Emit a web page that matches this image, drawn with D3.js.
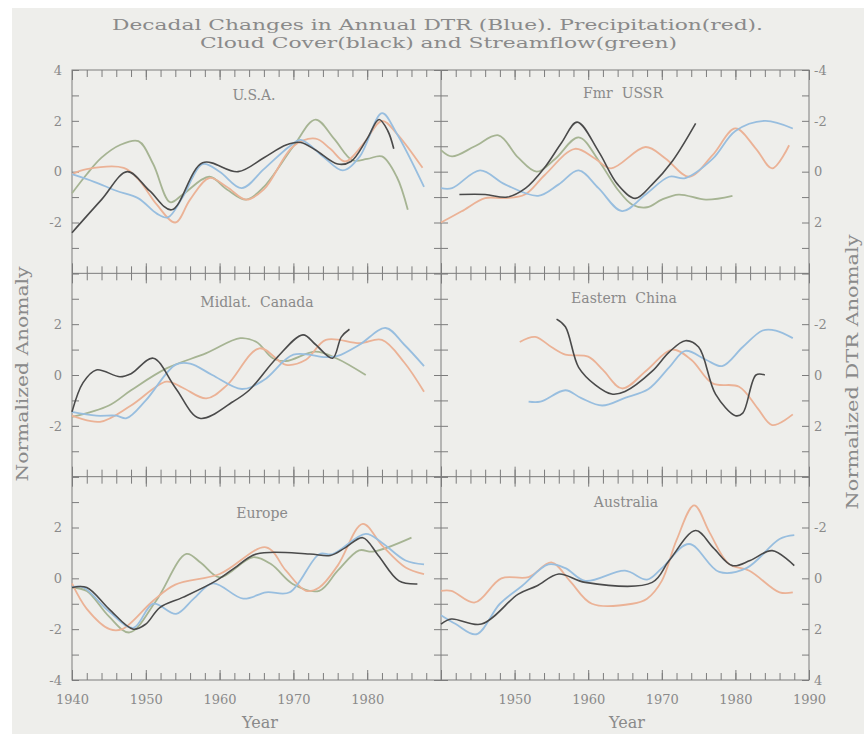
<!DOCTYPE html>
<html>
<head>
<meta charset="utf-8">
<script src="https://cdn.jsdelivr.net/npm/d3@7"></script>
<style>
  body { margin: 0; background: #fff; }
  svg { display: block; }
</style>
</head>
<body>
<div id="vis"></div>
<script>
const WIDTH = 864;
const HEIGHT = 734;
const PLOT = {left: 72, mid: 441, right: 809, top: 70, bottom: 680};
const ROW_H = (PLOT.bottom - PLOT.top) / 3;
const FONT = "'DejaVu Serif', serif";
const TEXT_COLOR = "#8a8a8a";
const AXIS_COLOR = "#7c7c7c";

// [year, value] pairs
// DTR (blue) values are in DTR units, plotted on the reversed right axis
const usaDTR = [[1940,0.1],[1943,0.4],[1946,0.75],[1949,1.05],[1951.5,1.65],[1953,1.8],[1955,1.0],[1957.7,-0.3],[1960,0],[1963,0.65],[1966,-0.1],[1969.5,-1.0],[1971,-1.25],[1974,-0.6],[1976.7,-0.05],[1979,-0.6],[1982,-2.3],[1984,-1.5],[1987.7,0.6]];
const usaPrecip = [[1940,-0.1],[1942,0.1],[1947,0.15],[1949,-0.3],[1951.5,-1.3],[1954,-2.0],[1956,-1.1],[1958.6,-0.25],[1961,-0.6],[1963.6,-1.1],[1966,-0.7],[1970,1.0],[1973,1.3],[1975,0.9],[1977,0.4],[1979.5,1.1],[1982,2.0],[1984,1.5],[1987.5,0.15]];
const usaCloud = [[1940,-2.4],[1944,-1.1],[1947.5,0],[1950.5,-0.75],[1953.5,-1.5],[1957.7,0.35],[1962.5,0],[1966,0.55],[1969,1.05],[1971,1.15],[1973,0.85],[1976,0.3],[1977.8,0.4],[1980,1.3],[1981.6,2.05],[1982.8,1.6],[1983.6,0.9]];
const usaFlow = [[1940,-0.85],[1942,-0.1],[1944,0.55],[1946.5,1.05],[1949,1.2],[1951,0.3],[1953.3,-1.2],[1955,-0.9],[1958.6,-0.2],[1961,-0.7],[1963.6,-1.1],[1966,-0.6],[1970,1.0],[1973,2.05],[1975.5,1.3],[1978,0.45],[1980,0.5],[1982,0.6],[1984,-0.2],[1985.5,-1.5]];

const ussrDTR = [[1940,0.65],[1941.5,0.65],[1945.3,-0.05],[1948.7,0.5],[1953.2,0.95],[1956,0.5],[1958.7,-0.05],[1961.4,0.65],[1964.6,1.55],[1967.8,0.9],[1971,0.2],[1973.2,0.25],[1976.9,-0.5],[1980,-1.6],[1984,-2.0],[1987.8,-1.7]];
const ussrPrecip = [[1940,-2.0],[1942.8,-1.56],[1946,-1.04],[1948.7,-1.04],[1951.4,-0.9],[1954.1,-0.13],[1958.2,0.9],[1960.9,0.52],[1963.1,0.13],[1967.8,0.97],[1970.5,0.52],[1973.7,-0.2],[1976.9,0.65],[1980,1.7],[1982.8,0.9],[1985,0.13],[1987.3,1.04]];
const ussrCloud = [[1942.5,-0.9],[1946,-0.9],[1949,-1.0],[1951.5,-0.65],[1954,0.13],[1956.4,1.15],[1958.5,1.95],[1961.4,0.8],[1964,-0.5],[1966.4,-1.05],[1968.7,-0.5],[1971.4,0.4],[1974.6,1.9]];
const ussrFlow = [[1940,0.85],[1941.5,0.6],[1944.6,1.0],[1947.8,1.43],[1950.5,0.55],[1953,0.0],[1955.5,0.5],[1958.7,1.35],[1961.5,0.4],[1964,-0.7],[1966,-1.3],[1968,-1.4],[1970,-1.1],[1972.3,-0.9],[1976,-1.1],[1979.6,-0.95]];

const canadaDTR = [[1940,1.45],[1943.3,1.6],[1946,1.6],[1947.4,1.7],[1950,1.0],[1954,-0.4],[1956,-0.45],[1959,0],[1963,0.55],[1966,0.2],[1970,-0.8],[1974.4,-0.7],[1976,-0.75],[1979,-1.2],[1982.5,-1.85],[1985,-1.2],[1987.7,-0.35]];
const canadaPrecip = [[1940,-1.6],[1943.8,-1.84],[1948,-1.2],[1952.8,-0.26],[1955,-0.5],[1958.2,-0.92],[1961,-0.4],[1965.4,1.05],[1969,0.4],[1971.7,0.6],[1974.4,1.38],[1979,1.25],[1982,1.38],[1985,0.5],[1987.7,-0.66]];
const canadaCloud = [[1940,-1.45],[1941.5,-0.3],[1943.3,0.2],[1946.5,-0.07],[1948,0.05],[1951,0.66],[1954,-0.5],[1957.3,-1.7],[1961.8,-1.05],[1964,-0.6],[1967.7,0.66],[1971.3,1.58],[1973,1.2],[1975.3,0.66],[1976.5,1.5],[1977.6,1.8]];
const canadaFlow = [[1940,-1.65],[1945,-1.2],[1948,-0.6],[1952.8,0.26],[1958.2,0.86],[1962.8,1.45],[1965,1.3],[1967.2,0.66],[1969,0.55],[1973,0.92],[1975.8,0.66],[1979.8,0.0]];

const chinaDTR = [[1951.9,1.05],[1953.5,1.05],[1956.9,0.6],[1959,0.9],[1961.9,1.2],[1965,0.9],[1968.2,0.55],[1971,-0.3],[1973.2,-0.95],[1976,-0.6],[1978.2,-0.35],[1981,-1.1],[1983.7,-1.75],[1985.5,-1.75],[1987.8,-1.45]];
const chinaPrecip = [[1950.7,1.3],[1952.8,1.5],[1955,1.1],[1956.9,0.8],[1960,0.72],[1962,0.2],[1964.6,-0.53],[1968,0.2],[1971.4,1.0],[1974,0.6],[1976.9,-0.33],[1980.5,-0.46],[1983,-1.3],[1985,-1.97],[1987.8,-1.55]];
const chinaCloud = [[1955.7,2.2],[1956.9,1.9],[1958.7,0.3],[1961,-0.4],[1963.2,-0.75],[1965,-0.65],[1968.7,0.15],[1971,0.9],[1973.2,1.35],[1975,1.1],[1977.3,-0.75],[1980,-1.6],[1981,-1.5],[1982.8,0.0],[1984,0.0]];
const chinaFlow = [];

const europeDTR = [[1940,0.35],[1941.5,0.35],[1945,1.3],[1948.3,1.95],[1951,1.0],[1954.1,1.4],[1956.5,0.8],[1959.1,0.2],[1963.2,0.8],[1966.3,0.55],[1969.5,0.55],[1973.5,-0.95],[1975.3,-0.95],[1979.8,-1.75],[1982,-1.4],[1985.2,-0.7],[1987.7,-0.55]];
const europePrecip = [[1940,-0.2],[1942,-1.2],[1945.1,-2.0],[1946.8,-2.0],[1951,-0.88],[1954,-0.25],[1960,0.17],[1966.3,1.22],[1969,0.3],[1971.7,-0.49],[1973.5,-0.36],[1976,0.5],[1979.4,2.14],[1982,1.3],[1985.2,0.43],[1987.7,0.17]];
const europeCloud = [[1940,-0.36],[1942,-0.36],[1945,-1.2],[1948.3,-2.0],[1950,-1.8],[1951.9,-1.15],[1955,-0.75],[1959.5,-0.1],[1962,0.4],[1965,0.96],[1972.2,0.96],[1975,0.9],[1977,1.2],[1979.4,1.6],[1981.5,0.9],[1984.3,-0.1],[1986.8,-0.22]];
const europeFlow = [[1940,-0.36],[1942,-0.5],[1945,-1.5],[1947.8,-2.13],[1951.4,-0.88],[1955.5,0.96],[1957.5,0.6],[1960,0.04],[1964.5,0.83],[1967,0.55],[1969.9,-0.22],[1973.5,-0.49],[1976,0.3],[1978.9,1.1],[1980.8,1.05],[1986,1.6]];

const australiaDTR = [[1940,1.45],[1942,1.8],[1944.8,2.2],[1948,1.0],[1951,0.3],[1954.6,-0.55],[1956.9,-0.4],[1959.6,0.1],[1965,-0.3],[1968,0.05],[1970,-0.4],[1973.7,-1.35],[1977.8,-0.25],[1981.5,-0.4],[1986,-1.55],[1988,-1.7]];
const australiaPrecip = [[1940,-0.49],[1941.4,-0.49],[1944.6,-0.95],[1948.2,0.0],[1951.9,0.05],[1955,0.63],[1957.5,-0.1],[1960.5,-1.0],[1966,-1.0],[1968,-0.8],[1970,-0.1],[1972,1.5],[1974.4,2.87],[1976.5,1.8],[1979.1,0.57],[1981.9,0.3],[1986,-0.55],[1987.8,-0.55]];
const australiaCloud = [[1940,-1.8],[1941.4,-1.6],[1945.5,-1.8],[1950.5,-0.62],[1953,-0.3],[1956,0.17],[1959.6,-0.16],[1968.7,-0.16],[1971,0.7],[1974.6,1.88],[1977,1.2],[1979.6,0.5],[1982,0.7],[1985,1.09],[1988,0.5]];
const australiaFlow = [];

const regions = ["U.S.A.", "Fmr  USSR", "Midlat.  Canada", "Eastern  China", "Europe", "Australia"];
const seriesByRegion = [
  [usaDTR, usaPrecip, usaCloud, usaFlow],
  [ussrDTR, ussrPrecip, ussrCloud, ussrFlow],
  [canadaDTR, canadaPrecip, canadaCloud, canadaFlow],
  [chinaDTR, chinaPrecip, chinaCloud, chinaFlow],
  [europeDTR, europePrecip, europeCloud, europeFlow],
  [australiaDTR, australiaPrecip, australiaCloud, australiaFlow]
];

const xTickLabels = [[1940, 1950, 1960, 1970, 1980], [1950, 1960, 1970, 1980, 1990]];
const leftTickLabels = [[4, 2, 0, -2], [2, 0, -2], [2, 0, -2, -4]];
const rightTickLabels = [[-4, -2, 0, 2], [-2, 0, 2], [-2, 0, 2, 4]];

// panel title centre (x) and offset from row top (y)
const TITLE_POS = [[254, 30], [623, 28], [257, 34], [624, 30], [262, 41], [626, 30]];

const COLORS = {dtr: "#98bedf", precip: "#ebb296", cloud: "#4a4a4a", flow: "#a6b493"};

const svg = d3.select("#vis")
    .append("svg")
    .attr("width", WIDTH)
    .attr("height", HEIGHT);

svg.append("rect")
    .attr("x", 12).attr("y", 8)
    .attr("width", WIDTH - 12).attr("height", HEIGHT - 8)
    .attr("fill", "#eeeeeb");

const X_SCALES = [
  d3.scaleLinear().domain([1940, 1990]).range([PLOT.left, PLOT.mid]),
  d3.scaleLinear().domain([1940, 1990]).range([PLOT.mid, PLOT.right])
];
function yLeft(r) {
  return d3.scaleLinear().domain([-4, 4]).range([PLOT.top + (r + 1) * ROW_H, PLOT.top + r * ROW_H]);
}
function yRight(r) {
  return d3.scaleLinear().domain([-4, 4]).range([PLOT.top + r * ROW_H, PLOT.top + (r + 1) * ROW_H]);
}

function addAxis(axis, tx, ty, size) {
  const g = svg.append("g")
      .attr("transform", "translate(" + tx + "," + ty + ")")
      .call(axis);
  g.select(".domain").remove();
  g.attr("font-family", FONT).attr("font-size", size || 13);
  g.selectAll("line").attr("stroke", AXIS_COLOR);
  g.selectAll("text").attr("fill", TEXT_COLOR);
  return g;
}

const minorYears = d3.range(1940, 1991, 2);
const majorYears = d3.range(1940, 1991, 10);

// x ticks along every horizontal frame line
for (let c = 0; c < 2; c++) {
  const x = X_SCALES[c];
  for (let k = 0; k <= 3; k++) {
    const y = PLOT.top + k * ROW_H;
    if (k < 3) {
      addAxis(d3.axisBottom(x).tickValues(minorYears).tickSize(7).tickFormat(""), 0, y);
      addAxis(d3.axisBottom(x).tickValues(majorYears).tickSize(10).tickFormat(""), 0, y);
    }
    if (k > 0) {
      addAxis(d3.axisTop(x).tickValues(minorYears).tickSize(7).tickFormat(""), 0, y);
      addAxis(d3.axisTop(x).tickValues(majorYears).tickSize(10).tickFormat(""), 0, y);
    }
  }
  addAxis(d3.axisBottom(x).tickValues(xTickLabels[c]).tickSize(0).tickPadding(15)
      .tickFormat(d => String(d)), 0, PLOT.bottom, 13);
}

// y ticks along the three vertical frame lines
const yTicks = d3.range(-4, 5, 1);
for (let r = 0; r < 3; r++) {
  addAxis(d3.axisRight(yLeft(r)).tickValues(yTicks).tickSize(7).tickFormat(""), PLOT.left, 0);
  addAxis(d3.axisLeft(yLeft(r)).tickValues(yTicks).tickSize(7).tickFormat(""), PLOT.mid, 0);
  addAxis(d3.axisRight(yLeft(r)).tickValues(yTicks).tickSize(7).tickFormat(""), PLOT.mid, 0);
  addAxis(d3.axisLeft(yRight(r)).tickValues(yTicks).tickSize(7).tickFormat(""), PLOT.right, 0);
  addAxis(d3.axisLeft(yLeft(r)).tickValues(leftTickLabels[r]).tickSize(0).tickPadding(10)
      .tickFormat(d => String(d)), PLOT.left, 0, 13);
  addAxis(d3.axisRight(yRight(r)).tickValues(rightTickLabels[r]).tickSize(0).tickPadding(5)
      .tickFormat(d => String(d)), PLOT.right, 0, 13);
}

// frame
const frame = svg.append("g").attr("stroke", AXIS_COLOR).attr("stroke-width", 1).attr("fill", "none");
frame.append("rect")
    .attr("x", PLOT.left).attr("y", PLOT.top)
    .attr("width", PLOT.right - PLOT.left).attr("height", PLOT.bottom - PLOT.top);
frame.append("line").attr("x1", PLOT.mid).attr("x2", PLOT.mid).attr("y1", PLOT.top).attr("y2", PLOT.bottom);
[1, 2].forEach(k => {
  frame.append("line")
      .attr("x1", PLOT.left).attr("x2", PLOT.right)
      .attr("y1", PLOT.top + k * ROW_H).attr("y2", PLOT.top + k * ROW_H);
});

// series
const order = [["flow", 3], ["precip", 1], ["dtr", 0], ["cloud", 2]];
regions.forEach((name, i) => {
  const r = Math.floor(i / 2), c = i % 2;
  const x = X_SCALES[c];
  const yl = yLeft(r), yr = yRight(r);

  order.forEach(([key, idx]) => {
    const data = seriesByRegion[i][idx];
    if (!data.length) return;
    const y = key === "dtr" ? yr : yl;
    const line = d3.line()
        .x(d => x(d[0]))
        .y(d => y(d[1]))
        .curve(d3.curveCatmullRom.alpha(0.5));
    svg.append("path")
        .datum(data)
        .attr("d", line)
        .attr("fill", "none")
        .attr("stroke", COLORS[key])
        .attr("stroke-width", key === "cloud" ? 1.6 : 1.8)
        .attr("stroke-linejoin", "round");
  });

  svg.append("text")
      .attr("x", TITLE_POS[i][0])
      .attr("y", PLOT.top + r * ROW_H + TITLE_POS[i][1])
      .attr("text-anchor", "middle")
      .attr("font-family", FONT)
      .attr("font-size", 14)
      .attr("fill", TEXT_COLOR)
      .style("white-space", "pre")
      .text(name);
});

// titles
svg.append("text")
    .attr("x", 112).attr("y", 30)
    .attr("textLength", 651).attr("lengthAdjust", "spacingAndGlyphs")
    .attr("font-family", FONT).attr("font-size", 15).attr("fill", TEXT_COLOR)
    .text("Decadal Changes in Annual DTR (Blue). Precipitation(red).");
svg.append("text")
    .attr("x", 200).attr("y", 48)
    .attr("textLength", 477).attr("lengthAdjust", "spacingAndGlyphs")
    .attr("font-family", FONT).attr("font-size", 15).attr("fill", TEXT_COLOR)
    .text("Cloud Cover(black) and Streamflow(green)");

svg.append("text")
    .attr("transform", "translate(28,374) rotate(-90)")
    .attr("text-anchor", "middle")
    .attr("textLength", 215).attr("lengthAdjust", "spacingAndGlyphs")
    .attr("font-family", FONT).attr("font-size", 16).attr("fill", TEXT_COLOR)
    .text("Normalized Anomaly");
svg.append("text")
    .attr("transform", "translate(858,372) rotate(-90)")
    .attr("text-anchor", "middle")
    .attr("textLength", 275).attr("lengthAdjust", "spacingAndGlyphs")
    .attr("font-family", FONT).attr("font-size", 16).attr("fill", TEXT_COLOR)
    .text("Normalized DTR Anomaly");

[260, 627].forEach(cx => {
  svg.append("text")
      .attr("x", cx).attr("y", 728)
      .attr("text-anchor", "middle")
      .attr("font-family", FONT).attr("font-size", 16).attr("fill", TEXT_COLOR)
      .text("Year");
});
</script>
</body>
</html>
